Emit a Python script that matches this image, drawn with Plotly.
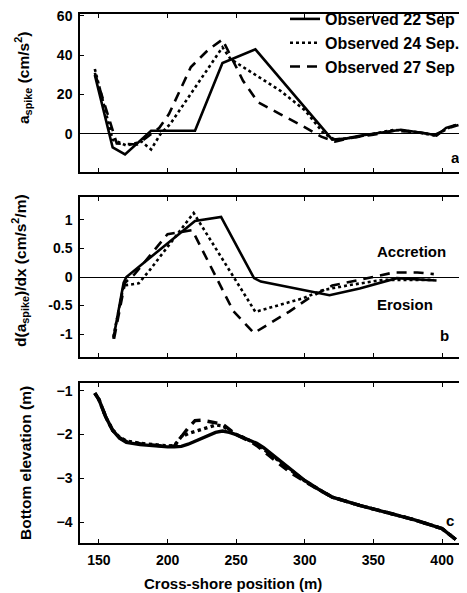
import plotly.graph_objects as go

# ---------------- data ----------------
# Panel a: a_spike (cm/s^2)
a22_x = [147, 160, 169, 188, 220, 240, 264, 316, 320, 330, 340, 350, 360, 370, 380, 390, 396, 403, 410]
a22_y = [30, -7, -10.5, 1.5, 1.5, 36, 43, 0.5, -3, -2.5, -1, 0, 1, 2, 1, 0, -1, 3, 4.5]
a24_x = [147, 160, 170, 181, 188, 195, 202, 240, 246, 282, 300, 314, 322, 335, 350, 365, 380, 395, 405, 412]
a24_y = [33, -3, -6, -4, -8, 0, 5, 44, 38, 22, 12, 0, -3, -2, 0, 2, 1, -1, 3, 5]
a27_x = [147, 163, 178, 194, 201, 217, 230, 240, 255, 266, 282, 297, 312, 322, 335, 350, 365, 380, 395, 405, 412]
a27_y = [31, -5, -5.5, 3, 10, 34, 43, 48, 27, 16, 10, 4.5, -1.5, -4, -2, -0.5, 1.5, 1, -0.5, 3, 4.5]

# Panel b: d(a_spike)/dx (cm/s^2/m)
b22_x = [160.5, 168, 170, 220, 239, 263, 268, 318, 340, 367, 396]
b22_y = [-1.08, -0.1, 0, 0.98, 1.05, -0.02, -0.08, -0.32, -0.2, -0.02, -0.06]
b24_x = [160.5, 168, 179, 187, 219, 264, 299, 313, 333, 357, 394]
b24_y = [-1.05, -0.15, -0.11, 0.12, 1.12, -0.61, -0.37, -0.23, -0.14, -0.05, -0.05]
b27_x = [161, 169, 176, 188, 200, 218, 233, 248, 263, 289, 303, 320, 340, 365, 382, 394]
b27_y = [-1.08, -0.1, 0.05, 0.4, 0.75, 0.82, 0.12, -0.6, -0.98, -0.6, -0.37, -0.15, -0.05, 0.08, 0.08, 0.05]

# Panel c: bottom elevation (m)
c_x = [147, 150, 155, 160, 165, 170, 180, 190, 200, 205, 210, 215, 220, 225, 230, 235, 240, 245,
       250, 255, 260, 265, 270, 280, 290, 300, 310, 320, 340, 360, 380, 400, 410]
c22 = [-1.05, -1.2, -1.6, -1.9, -2.08, -2.18, -2.23, -2.26, -2.28, -2.28, -2.27, -2.22, -2.15, -2.07,
       -2.0, -1.95, -1.92, -1.95, -2.0, -2.06, -2.12, -2.2, -2.3, -2.55, -2.8, -3.05, -3.25, -3.43,
       -3.62, -3.78, -3.95, -4.15, -4.4]
c24 = [-1.05, -1.2, -1.6, -1.9, -2.06, -2.15, -2.2, -2.23, -2.26, -2.25, -2.05, -1.98, -1.93, -1.88,
       -1.83, -1.78, -1.8, -1.9, -2.0, -2.06, -2.13, -2.22, -2.33, -2.58, -2.83, -3.06, -3.25, -3.43,
       -3.62, -3.78, -3.95, -4.15, -4.4]
c27 = [-1.05, -1.2, -1.6, -1.9, -2.07, -2.16, -2.21, -2.24, -2.27, -2.26, -2.05, -1.85, -1.68, -1.67,
       -1.7, -1.73, -1.76, -1.88, -2.0, -2.08, -2.15, -2.25, -2.37, -2.63, -2.88, -3.08, -3.26, -3.43,
       -3.62, -3.78, -3.95, -4.15, -4.4]

dates = ["Observed 22 Sep", "Observed 24 Sep.", "Observed 27 Sep"]
x_ticks = [150, 200, 250, 300, 350, 400]
ya_ticks = [-20, 0, 20, 40, 60]
yb_ticks = [-1, -0.5, 0, 0.5, 1]
yc_ticks = [-4, -3, -2, -1]

# ---------------- figure ----------------
# page body has an 8px margin, so the figure is drawn 8px smaller and everything
# is positioned in "window" pixels through the helpers below
OFF = 8
W, H = 467 - OFF, 593 - OFF
L = 80 - OFF
PW = W - L
FONT = "Arial"

def px_x(px):
    return (px - OFF - L) / PW

def px_y(py):
    return (H - (py - OFF)) / H

def dom(top_px, bot_px):
    return [px_y(bot_px), px_y(top_px)]

def f(size):
    return dict(family=FONT, size=size, color="black", weight="bold")

styles = [dict(color="black", width=2.6, dash="solid"),
          dict(color="black", width=2.6, dash="dot"),
          dict(color="black", width=2.6, dash="10px,7px")]

fig = go.Figure()
panel_a = [(a22_x, a22_y), (a24_x, a24_y), (a27_x, a27_y)]
panel_b = [(b22_x, b22_y), (b24_x, b24_y), (b27_x, b27_y)]
panel_c = [(c_x, c22), (c_x, c24), (c_x, c27)]

for i, (xs, ys) in enumerate(panel_a):
    fig.add_trace(go.Scatter(x=xs, y=ys, mode="lines", line=styles[i], name=dates[i],
                             xaxis="x", yaxis="y", showlegend=True))
for i, (xs, ys) in enumerate(panel_b):
    fig.add_trace(go.Scatter(x=xs, y=ys, mode="lines", line=styles[i], name=dates[i],
                             xaxis="x2", yaxis="y2", showlegend=False))
for i, (xs, ys) in enumerate(panel_c):
    st = dict(styles[i]); st["width"] = 3.4
    fig.add_trace(go.Scatter(x=xs, y=ys, mode="lines", line=st, name=dates[i],
                             xaxis="x3", yaxis="y3", showlegend=False))

xr = [136.2, 418.2]
common_x = dict(range=xr, showline=True, linecolor="black", linewidth=1.5, mirror="ticks",
                ticks="inside", ticklen=4, tickcolor="black", tickvals=x_ticks,
                showgrid=False, zeroline=False, domain=[0, 1], tickfont=f(14),
                ticklabelstandoff=3, ticklabeloverflow="allow")
common_y = dict(showline=True, linecolor="black", linewidth=1.5, mirror=False,
                ticks="inside", ticklen=4, tickcolor="black", showgrid=False,
                zeroline=True, zerolinecolor="black", zerolinewidth=1,
                tickfont=f(14), ticklabelstandoff=3, ticklabeloverflow="allow")

fig.update_layout(
    width=W, height=H,
    margin=dict(l=L, r=0, t=0, b=0, autoexpand=False),
    paper_bgcolor="white", plot_bgcolor="white",
    font=f(14),
    xaxis=dict(common_x, anchor="y", showticklabels=False),
    xaxis2=dict(common_x, anchor="y2", showticklabels=False),
    xaxis3=dict(common_x, anchor="y3", showticklabels=True),
    yaxis=dict(common_y, domain=dom(14, 172), range=[-19.5, 61], tickvals=ya_ticks, anchor="x"),
    yaxis2=dict(common_y, domain=dom(197, 357), range=[-1.4, 1.4], tickvals=yb_ticks,
                ticktext=["-1", "-0.5", "0", "0.5", "1"], anchor="x2"),
    yaxis3=dict(common_y, domain=dom(383, 543), range=[-4.48, -0.82], tickvals=yc_ticks,
                zeroline=False, anchor="x3"),
    legend=dict(x=px_x(285), y=px_y(2), xanchor="left", yanchor="top",
                bgcolor="rgba(0,0,0,0)", borderwidth=0, font=f(16), tracegroupgap=0),
    showlegend=True,
)

ann = [
    dict(text="a<sub>spike</sub> (cm/s<sup>2</sup>)", x=px_x(23), y=px_y(78), textangle=-90, size=15.5),
    dict(text="d(a<sub>spike</sub>)/dx (cm/s<sup>2</sup>/m)", x=px_x(20), y=px_y(271), textangle=-90, size=15.5),
    dict(text="Bottom elevation (m)", x=px_x(25), y=px_y(463), textangle=-90, size=15.5),
    dict(text="Cross-shore position (m)", x=px_x(233), y=px_y(583), size=15),
    dict(text="a", x=px_x(455), y=px_y(157), size=15),
    dict(text="b", x=px_x(444), y=px_y(335), size=15),
    dict(text="c", x=px_x(450), y=px_y(520), size=15),
    dict(text="Accretion", x=px_x(411), y=px_y(252), size=15),
    dict(text="Erosion", x=px_x(405), y=px_y(304), size=15),
]
for a in ann:
    size = a.pop("size")
    a.update(xref="paper", yref="paper", showarrow=False, font=f(size),
             xanchor="center", yanchor="middle")
    fig.add_annotation(**a)

fig.write_html("out.html")
